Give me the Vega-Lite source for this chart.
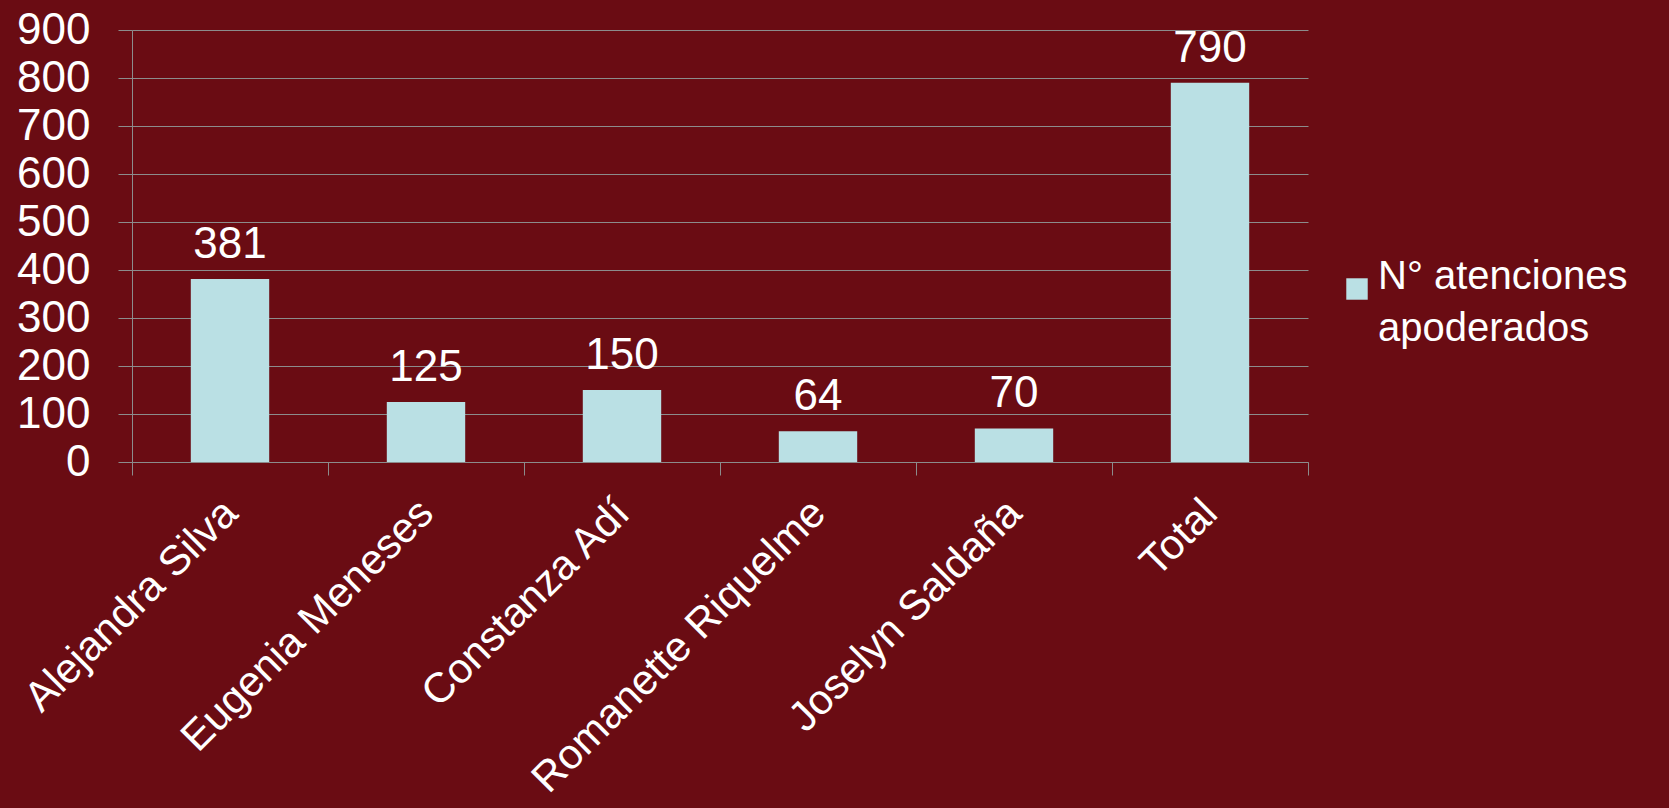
{
  "$schema": "https://vega.github.io/schema/vega-lite/v6.json",
  "width": 1176,
  "height": 432,
  "autosize": {"type": "none"},
  "padding": {"left": 132, "top": 30, "right": 361, "bottom": 346},
  "background": "#6a0c13",
  "config": {
    "view": {"stroke": null},
    "font": "Liberation Sans",
    "style": {"guide-label": {"lineHeight": 52}}
  },
  "data": {
    "values": [
      {"nombre": "Alejandra Silva", "valor": 381, "serie": "N° atenciones apoderados"},
      {"nombre": "Eugenia Meneses", "valor": 125, "serie": "N° atenciones apoderados"},
      {"nombre": "Constanza Adí", "valor": 150, "serie": "N° atenciones apoderados"},
      {"nombre": "Romanette Riquelme", "valor": 64, "serie": "N° atenciones apoderados"},
      {"nombre": "Joselyn Saldaña", "valor": 70, "serie": "N° atenciones apoderados"},
      {"nombre": "Total", "valor": 790, "serie": "N° atenciones apoderados"}
    ]
  },
  "encoding": {
    "x": {
      "field": "nombre",
      "type": "nominal",
      "sort": null,
      "scale": {"paddingInner": 0, "paddingOuter": 0},
      "axis": {
        "title": null,
        "labelAngle": -45,
        "labelAlign": "right",
        "labelBaseline": "middle",
        "labelFontSize": 42,
        "labelColor": "#ffffff",
        "labelFont": "Liberation Sans",
        "labelLimit": 1000,
        "labelOverlap": false,
        "labelPadding": 31,
        "tickBand": "extent",
        "tickSize": 13,
        "tickColor": "#8c8c8c",
        "domainColor": "#8c8c8c",
        "grid": false
      }
    },
    "y": {
      "field": "valor",
      "type": "quantitative",
      "scale": {"domain": [0, 900], "nice": false},
      "axis": {
        "title": null,
        "values": [0, 100, 200, 300, 400, 500, 600, 700, 800, 900],
        "labelFontSize": 44,
        "labelColor": "#ffffff",
        "labelFont": "Liberation Sans",
        "labelPadding": 28,
        "tickSize": 14,
        "tickColor": "#8c8c8c",
        "domainColor": "#8c8c8c",
        "grid": true,
        "gridColor": "#8c8c8c",
        "gridOpacity": 1
      }
    }
  },
  "layer": [
    {
      "mark": {"type": "bar", "width": {"band": 0.4}},
      "encoding": {
        "color": {
          "field": "serie",
          "type": "nominal",
          "scale": {"range": ["#bae0e4"]},
          "legend": {
            "title": null,
            "orient": "none",
            "legendX": 1205,
            "legendY": 239,
            "padding": 0,
            "symbolType": "square",
            "symbolSize": 460,
            "symbolStrokeWidth": 0,
            "labelFontSize": 40,
            "labelColor": "#ffffff",
            "labelFont": "Liberation Sans",
            "labelBaseline": "alphabetic",
            "labelLimit": 1000,
            "labelOffset": 1,
            "labelExpr": "['N° atenciones', 'apoderados']"
          }
        }
      }
    },
    {
      "mark": {"type": "text", "baseline": "alphabetic", "dy": -21, "fontSize": 44, "color": "#ffffff", "font": "Liberation Sans"},
      "encoding": {
        "text": {"field": "valor", "type": "quantitative"}
      }
    }
  ]
}
